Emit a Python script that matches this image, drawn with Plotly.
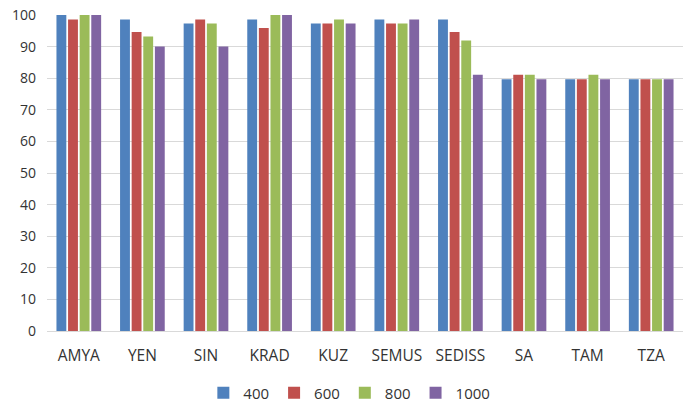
import plotly.graph_objects as go

categories = ["AMYA", "YEN", "SIN", "KRAD", "KUZ", "SEMUS", "SEDISS", "SA", "TAM", "TZA"]
series_names = ["400", "600", "800", "1000"]
v400 = [100, 98.6, 97.3, 98.6, 97.3, 98.6, 98.6, 79.7, 79.7, 79.7]
v600 = [98.6, 94.6, 98.6, 95.9, 97.3, 97.3, 94.6, 81.1, 79.7, 79.7]
v800 = [100, 93.2, 97.3, 100, 98.6, 97.3, 91.9, 81.1, 81.1, 79.7]
v1000 = [100, 90.0, 90.0, 100, 97.3, 98.6, 81.1, 79.7, 79.7, 79.7]
colors = ["#4F81BD", "#C0504D", "#9BBB59", "#8064A2"]
y_ticks = [0, 10, 20, 30, 40, 50, 60, 70, 80, 90, 100]

fig = go.Figure()
for name, vals, col in zip(series_names, [v400, v600, v800, v1000], colors):
    fig.add_trace(go.Bar(x=categories, y=vals, name=name, hoverinfo="skip",
                         marker=dict(color=col, line=dict(width=0))))

font_family = "Open Sans, Liberation Sans, sans-serif"
fig.update_layout(
    width=685, height=407,
    margin=dict(l=47, r=2, t=15, b=76, autoexpand=False),
    paper_bgcolor="white", plot_bgcolor="white",
    barmode="group", bargap=0.27, bargroupgap=0.15,
    font=dict(family=font_family, size=14, color="#333333"),
    showlegend=True, hovermode=False,
    legend=dict(orientation="h", x=0.51, xanchor="center", xref="container",
                y=1 - 393 / 407, yanchor="middle", yref="container",
                font=dict(size=15, color="#333333"), itemwidth=30, tracegroupgap=0),
    xaxis=dict(showgrid=False, showline=True, linecolor="#D9D9D9", ticks="",
               tickfont=dict(size=15.5, color="#333333"), ticklabelstandoff=10),
    yaxis=dict(range=[0, 100], tickvals=y_ticks, showgrid=True, gridcolor="#D9D9D9",
               zeroline=False, showline=False, ticks="", ticklabelstandoff=10,
               tickfont=dict(size=14, color="#333333")),
)
fig.write_html("out.html", config={"displayModeBar": False},
               post_script="document.body.style.margin='0';document.body.style.overflow='hidden';")
